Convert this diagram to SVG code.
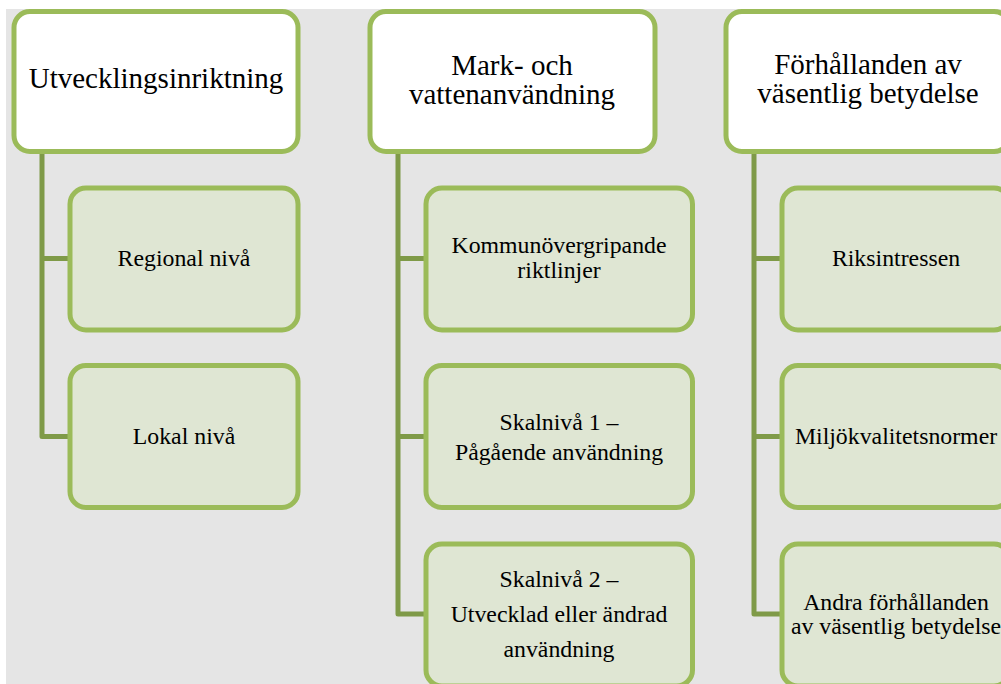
<svg xmlns="http://www.w3.org/2000/svg" width="1001" height="684" viewBox="0 0 1001 684">
<style>
.bg{fill:#e5e5e5}
.top{fill:#ffffff;stroke:#9bbb59;stroke-width:5}
.child{fill:#dfe6d3;stroke:#9bbb59;stroke-width:5}
.conn{fill:none;stroke:#7f9a48;stroke-width:5;stroke-linejoin:round}
.t1{font-family:"Liberation Serif","Times New Roman",serif;font-size:29px;fill:#000;text-anchor:middle}
.t2{font-family:"Liberation Serif","Times New Roman",serif;font-size:23.8px;fill:#000;text-anchor:middle}
</style>
<rect x="0" y="0" width="1001" height="684" fill="#ffffff"/>
<rect class="bg" x="6" y="9" width="995" height="675"/>
<g id="connectors">
<path class="conn" d="M42 153 V436.5 H70 M42 258.5 H70"/>
<path class="conn" d="M398 153 V614 H426 M398 258.5 H426 M398 436.5 H426"/>
<path class="conn" d="M754 153 V614 H782 M754 258.5 H782 M754 436.5 H782"/>
</g>
<g id="n-utveckling">
<rect class="top" x="14" y="11.5" width="284" height="140" rx="16"/>
<text class="t1" x="156" y="88">Utvecklingsinriktning</text>
</g>
<g id="n-regional">
<rect class="child" x="70" y="188" width="228" height="142" rx="16"/>
<text class="t2" x="184" y="266">Regional nivå</text>
</g>
<g id="n-lokal">
<rect class="child" x="70" y="365.5" width="228" height="142" rx="16"/>
<text class="t2" x="184" y="444">Lokal nivå</text>
</g>
<g id="n-mark">
<rect class="top" x="370" y="11.5" width="285" height="140" rx="16"/>
<text class="t1" x="512" y="75">Mark- och</text>
<text class="t1" x="512" y="104">vattenanvändning</text>
</g>
<g id="n-kommun">
<rect class="child" x="426" y="188" width="266.5" height="142" rx="16"/>
<text class="t2" x="559" y="253">Kommunövergripande</text>
<text class="t2" x="559" y="278">riktlinjer</text>
</g>
<g id="n-skal1">
<rect class="child" x="426" y="365.5" width="266.5" height="142" rx="16"/>
<text class="t2" x="559" y="430">Skalnivå 1 –</text>
<text class="t2" x="559" y="460">Pågående användning</text>
</g>
<g id="n-skal2">
<rect class="child" x="426" y="544" width="266.5" height="142" rx="16"/>
<text class="t2" x="559" y="586.7">Skalnivå 2 –</text>
<text class="t2" x="559" y="621.7">Utvecklad eller ändrad</text>
<text class="t2" x="559" y="656.7">användning</text>
</g>
<g id="n-forhallanden">
<rect class="top" x="726" y="11.5" width="284" height="140" rx="16"/>
<text class="t1" x="868" y="74">Förhållanden av</text>
<text class="t1" x="868" y="103">väsentlig betydelse</text>
</g>
<g id="n-riks">
<rect class="child" x="782" y="188" width="228" height="142" rx="16"/>
<text class="t2" x="896" y="266">Riksintressen</text>
</g>
<g id="n-miljo">
<rect class="child" x="782" y="365.5" width="228" height="142" rx="16"/>
<text class="t2" x="896" y="444">Miljökvalitetsnormer</text>
</g>
<g id="n-andra">
<rect class="child" x="782" y="544" width="228" height="142" rx="16"/>
<text class="t2" x="896" y="610">Andra förhållanden</text>
<text class="t2" x="896" y="634">av väsentlig betydelse</text>
</g>
</svg>
